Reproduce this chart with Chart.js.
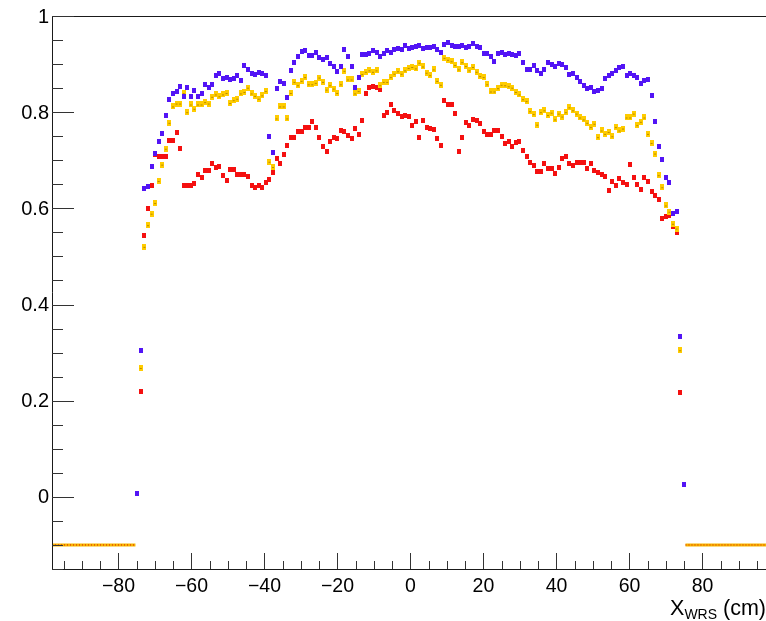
<!DOCTYPE html>
<html><head><meta charset="utf-8">
<script src="https://cdn.jsdelivr.net/npm/chart.js@4.4.1/dist/chart.umd.min.js"></script>
<style>html,body{margin:0;padding:0;background:#fff}#wrap{width:766px;height:621px;position:relative}</style>
</head><body><div id="wrap"><canvas id="c" width="766" height="621"></canvas></div>
<script>
// ---- histogram binning (cm) ----
const nBins = 154;
const binLo = -75.34;
const binHi = 75.34;
// ---- axis ranges ----
const xMin = -98.2, xMax = 97.4;
const yMin = -0.15, yMax = 1.0;
// ---- tick labels ----
const xMajorTicks = [-80, -60, -40, -20, 0, 20, 40, 60, 80];
const xTickLabels = ["\u221280", "\u221260", "\u221240", "\u221220", "0", "20", "40", "60", "80"];
const yMajorTicks = [0, 0.2, 0.4, 0.6, 0.8, 1];
const yTickLabels = ["0", "0.2", "0.4", "0.6", "0.8", "1"];
// ---- empty-bin level ----
const emptyLevel = -0.1;

// ---- series values, one per bin (null = not drawn) ----
const blueVals = [0.007,0.305,0.641,0.646,0.688,0.714,0.740,0.755,0.794,0.827,
0.839,0.842,0.854,0.833,0.851,0.833,0.846,0.832,0.839,0.858,
0.851,0.858,0.877,0.880,0.870,0.873,0.868,0.871,0.877,0.866,
0.898,0.889,0.880,0.878,0.882,0.880,0.877,0.749,0.717,0.850,
0.864,0.860,0.830,0.886,0.904,0.915,0.927,0.929,0.918,0.918,
0.925,0.913,0.909,0.913,0.901,0.895,0.884,0.895,0.931,0.916,
0.895,0.852,0.873,0.920,0.920,0.923,0.929,0.925,0.916,0.922,
0.929,0.925,0.930,0.932,0.931,0.938,0.932,0.935,0.937,0.939,
0.932,0.934,0.934,0.937,0.930,0.925,0.941,0.944,0.939,0.936,
0.936,0.939,0.934,0.937,0.943,0.937,0.934,0.923,0.923,0.916,
0.906,0.922,0.925,0.920,0.922,0.920,0.918,0.922,0.903,0.889,
0.889,0.898,0.887,0.880,0.889,0.903,0.900,0.894,0.901,0.900,
0.892,0.878,0.881,0.873,0.863,0.856,0.849,0.852,0.842,0.846,
0.849,0.870,0.877,0.880,0.886,0.893,0.895,0.877,0.881,0.877,
0.873,0.859,0.865,0.868,0.834,0.781,0.729,0.702,0.665,0.653,
0.590,0.593,0.333,0.026];

const yellowVals = [null,0.268,0.520,0.565,0.589,0.611,0.657,0.691,0.724,0.778,
0.812,0.818,0.818,0.840,0.800,0.816,0.807,0.816,0.816,0.821,
0.818,0.832,0.837,0.833,0.837,0.840,0.819,0.825,0.828,0.839,
0.842,0.851,0.839,0.834,0.828,0.835,0.844,0.697,0.686,0.787,
0.812,0.812,0.787,0.840,0.863,0.856,0.865,0.873,0.858,0.858,
0.861,0.872,0.863,0.847,0.856,0.849,0.840,0.858,0.886,0.868,
0.868,0.839,0.844,0.879,0.884,0.887,0.884,0.887,0.856,0.863,
0.863,0.873,0.880,0.885,0.880,0.887,0.892,0.894,0.891,0.903,
0.895,0.882,0.877,0.889,0.865,0.857,0.913,0.909,0.906,0.898,
0.889,0.904,0.896,0.887,0.894,0.884,0.875,0.873,0.858,0.843,
0.843,0.850,0.857,0.856,0.854,0.851,0.842,0.837,0.827,0.823,
0.802,0.796,0.774,0.800,0.804,0.794,0.799,0.785,0.797,0.791,
0.800,0.810,0.804,0.797,0.789,0.785,0.778,0.769,0.776,0.748,
0.762,0.755,0.759,0.750,0.769,0.762,0.766,0.789,0.789,0.797,
0.773,0.780,0.789,0.755,0.736,0.714,0.669,0.644,0.606,0.593,
0.568,0.558,0.305,null];

const redVals = [null,0.220,0.544,0.600,0.648,0.712,0.708,0.708,0.708,0.742,
0.742,0.757,0.724,0.648,0.648,0.648,0.652,0.671,0.665,0.678,
0.678,0.693,0.685,0.686,0.669,0.657,0.681,0.681,0.671,0.671,
0.671,0.667,0.648,0.644,0.648,0.643,0.653,0.660,0.674,0.703,
0.693,0.712,0.731,0.748,0.747,0.759,0.759,0.769,0.769,0.780,
0.769,0.747,0.729,0.719,0.740,0.747,0.745,0.762,0.759,0.752,
0.745,0.766,0.754,0.783,0.839,0.851,0.854,0.852,0.847,0.794,
0.800,0.815,0.803,0.798,0.791,0.794,0.792,0.772,0.780,0.748,
0.782,0.769,0.767,0.764,0.745,0.731,0.825,0.816,0.816,0.797,
0.719,0.747,0.779,0.773,0.785,0.783,0.776,0.759,0.754,0.754,
0.761,0.761,0.750,0.735,0.738,0.729,0.736,0.738,0.721,0.707,
0.696,0.690,0.676,0.676,0.693,0.683,0.683,0.672,0.685,0.703,
0.707,0.694,0.690,0.696,0.696,0.695,0.683,0.694,0.679,0.674,
0.671,0.667,0.638,0.655,0.648,0.662,0.653,0.650,0.692,0.664,
0.650,0.639,0.665,0.655,0.636,0.627,0.618,0.579,0.584,0.586,
0.562,0.550,0.218,null];

// ---- build chart data ----
const binWidth = (binHi - binLo) / nBins;
const binCenters = Array.from({length: nBins}, (_, i) => binLo + (i + 0.5) * binWidth);
const toPts = vals => binCenters.map((x, i) => ({x, y: vals[i]})).filter(p => p.y !== null && p.y !== undefined);

function markerCanvas(w, h, fill, mark) {
  const c = document.createElement('canvas');
  c.width = w; c.height = h;
  const g = c.getContext('2d');
  g.fillStyle = fill; g.fillRect(0, 0, w, h);
  if (mark) { g.fillStyle = mark; g.fillRect(1, Math.floor(h / 2), 2, 1); }
  return c;
}
const blueMarker = markerCanvas(4, 5, '#5214f5');
const yellowMarker = markerCanvas(4, 6, '#ffcc00', '#b88a00');
const redMarker = markerCanvas(4, 5, '#f41010');

const underflowLine = [{x: xMin, y: emptyLevel}, {x: binLo, y: emptyLevel}];
const overflowLine = [{x: binHi, y: emptyLevel}, {x: xMax, y: emptyLevel}];

const rootAxes = {
  id: 'rootAxes',
  afterDatasetsDraw(chart) {
    const {ctx, chartArea: a, scales: {x, y}} = chart;
    ctx.save();
    ctx.strokeStyle = '#1a1a1a';
    ctx.lineWidth = 1;
    ctx.beginPath();
    ctx.moveTo(a.left + 0.5, a.top); ctx.lineTo(a.left + 0.5, a.bottom + 0.5);
    ctx.moveTo(a.left, a.bottom + 0.5); ctx.lineTo(a.right, a.bottom + 0.5);
    ctx.moveTo(a.left, a.top + 0.5); ctx.lineTo(a.right, a.top + 0.5);
    ctx.stroke();
    ctx.strokeStyle = '#333';
    ctx.beginPath();
    for (let k = -3; k <= 20; k++) {
      const v = k * 0.05;
      const py = Math.round(y.getPixelForValue(v)) + 0.5;
      const major = (k % 4 === 0);
      ctx.moveTo(a.left, py); ctx.lineTo(a.left + (major ? 22 : 11), py);
    }
    for (let k = -19; k <= 19; k++) {
      const v = k * 5;
      const px = Math.round(x.getPixelForValue(v)) + 0.5;
      const major = (k % 4 === 0);
      ctx.moveTo(px, a.bottom); ctx.lineTo(px, a.bottom - (major ? 16 : 8));
    }
    ctx.stroke();
    ctx.fillStyle = '#000';
    ctx.font = '20px "Liberation Sans", Arial, sans-serif';
    ctx.textAlign = 'right';
    ctx.textBaseline = 'middle';
    yMajorTicks.forEach((v, i) => ctx.fillText(yTickLabels[i], a.left - 3, y.getPixelForValue(v) + 1));
    ctx.font = '19.5px "Liberation Sans", Arial, sans-serif';
    ctx.textAlign = 'center';
    ctx.textBaseline = 'alphabetic';
    xMajorTicks.forEach((v, i) => ctx.fillText(xTickLabels[i], x.getPixelForValue(v), a.bottom + 23));
    ctx.textAlign = 'left';
    const big = '21.5px "Liberation Sans", Arial, sans-serif';
    const small = '14px "Liberation Sans", Arial, sans-serif';
    ctx.font = big; const wX = ctx.measureText('X').width; const wCm = ctx.measureText(' (cm)').width;
    ctx.font = small; const wSub = ctx.measureText('WRS').width;
    let tx = a.right - (wX + wSub + wCm);
    const base = a.bottom + 46;
    ctx.font = big; ctx.fillText('X', tx, base); tx += wX;
    ctx.font = small; ctx.fillText('WRS', tx, base + 4); tx += wSub;
    ctx.font = big; ctx.fillText(' (cm)', tx, base);
    ctx.restore();
  }
};

new Chart(document.getElementById('c'), {
  type: 'scatter',
  data: {
    datasets: [
      {label: 'blue', data: toPts(blueVals), pointStyle: blueMarker, pointRadius: 3, borderWidth: 0},
      {label: 'yellow', data: toPts(yellowVals), pointStyle: yellowMarker, pointRadius: 3, borderWidth: 0},
      {label: 'red', data: toPts(redVals), pointStyle: redMarker, pointRadius: 3, borderWidth: 0},
      {label: 'emptyL', data: underflowLine, showLine: true, pointRadius: 0, borderColor: '#d81c00', borderWidth: 1, borderDash: [1, 2]},
      {label: 'emptyR', data: overflowLine, showLine: true, pointRadius: 0, borderColor: '#d81c00', borderWidth: 1, borderDash: [1, 2]},
      {label: 'emptyLb', data: underflowLine, showLine: true, pointRadius: 0, borderColor: '#f7b500', borderWidth: 3},
      {label: 'emptyRb', data: overflowLine, showLine: true, pointRadius: 0, borderColor: '#f7b500', borderWidth: 3}
    ]
  },
  options: {
    responsive: false,
    animation: false,
    devicePixelRatio: 1,
    layout: {autoPadding: false, padding: {left: 52, top: 16, right: 0, bottom: 52}},
    plugins: {legend: {display: false}, tooltip: {enabled: false}},
    scales: {
      x: {type: 'linear', min: xMin, max: xMax, display: false},
      y: {type: 'linear', min: yMin, max: yMax, display: false}
    }
  },
  plugins: [rootAxes]
});
</script>
</body></html>
